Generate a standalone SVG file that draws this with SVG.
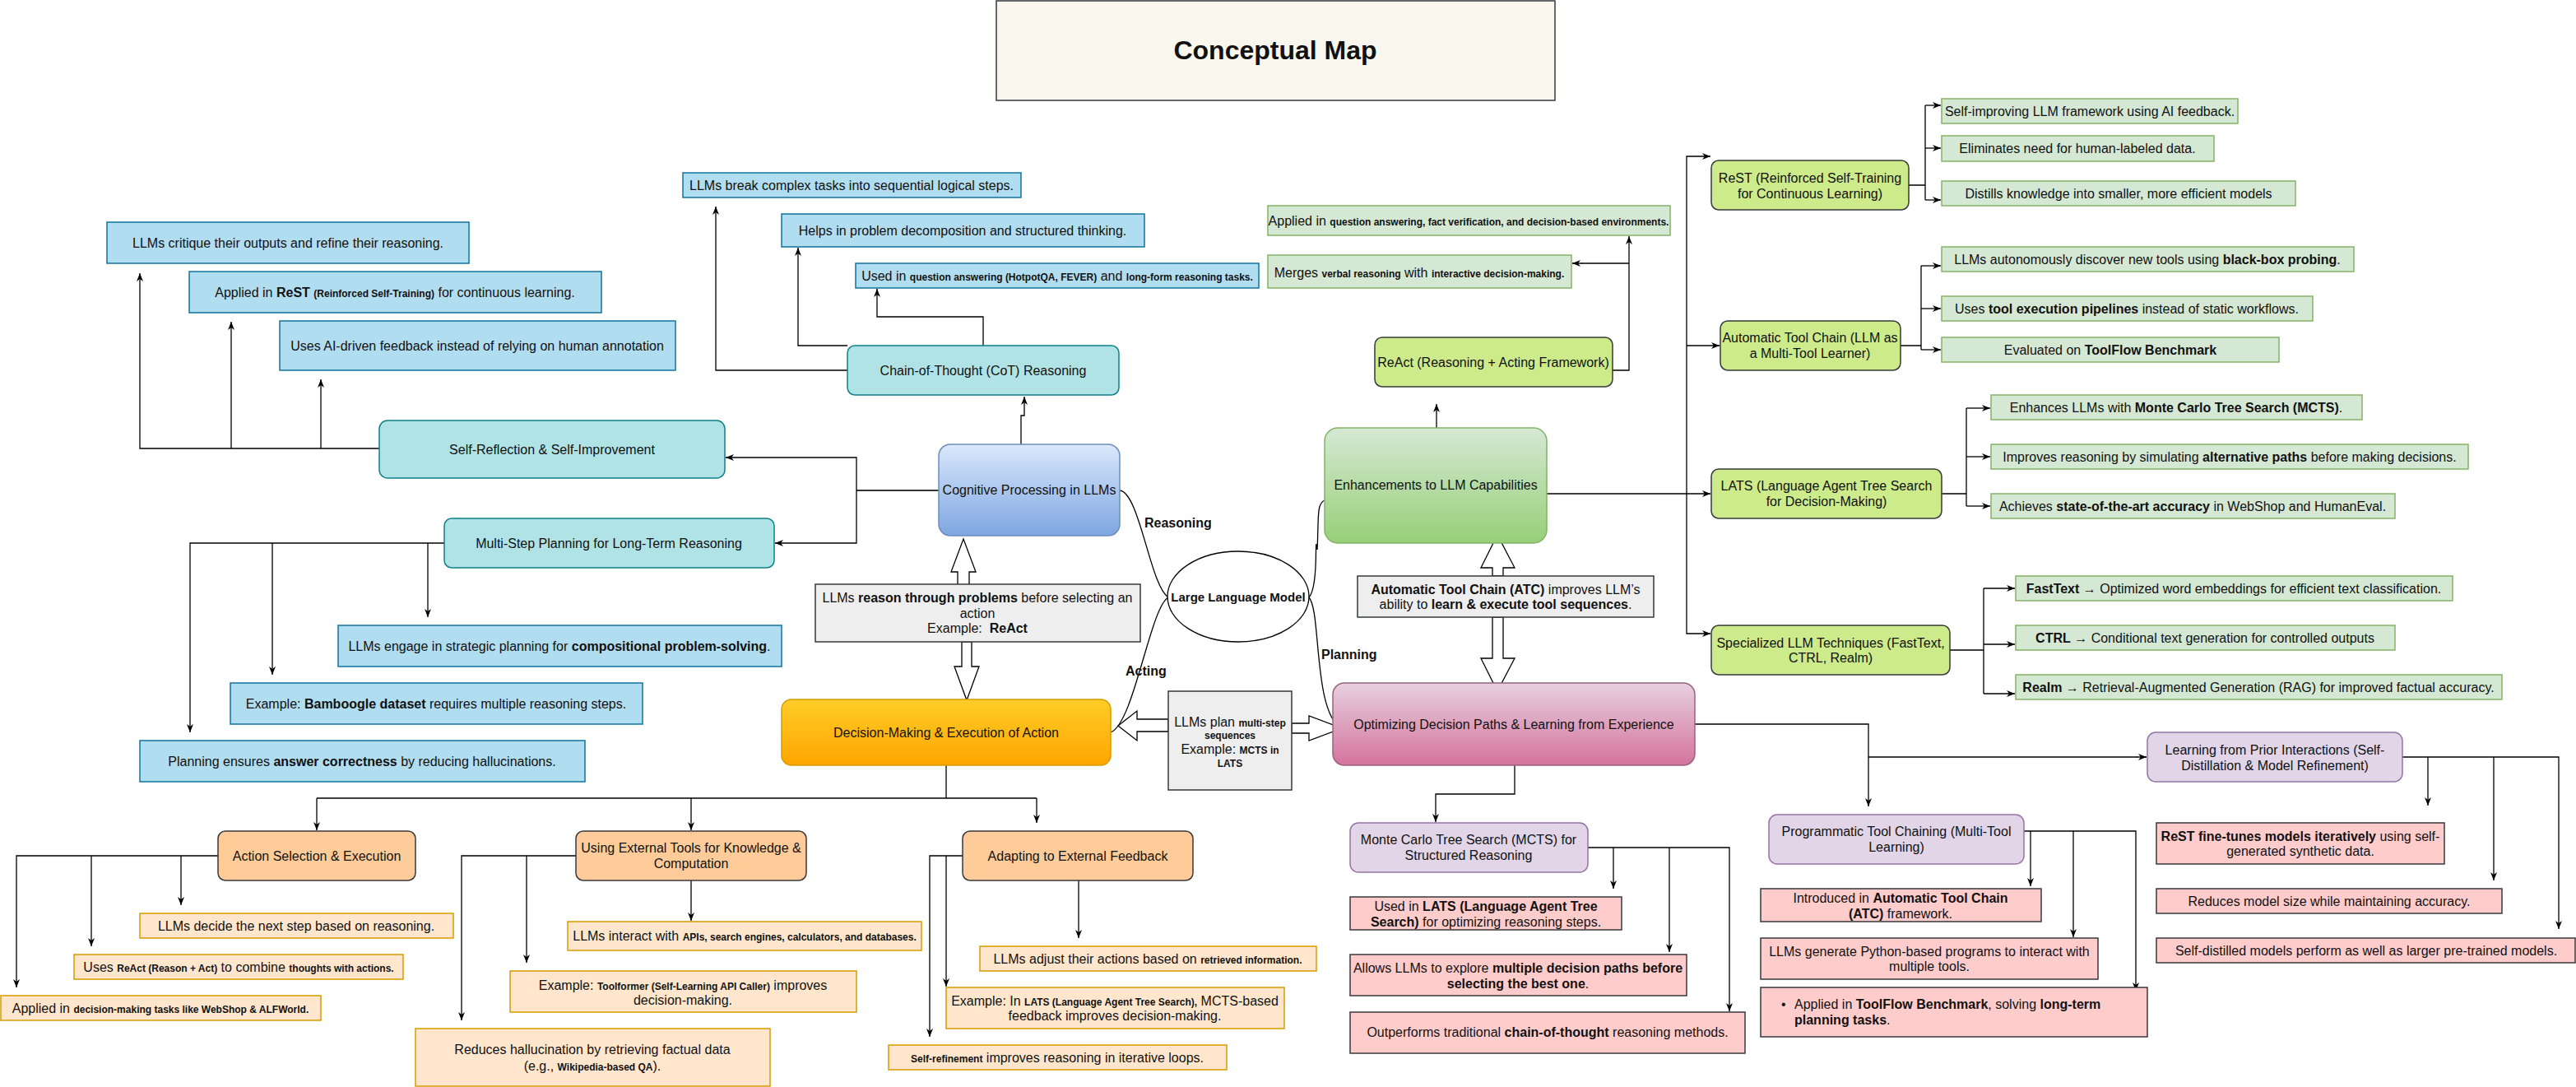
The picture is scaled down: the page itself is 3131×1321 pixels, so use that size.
<svg xmlns="http://www.w3.org/2000/svg" width="3131" height="1321" viewBox="0 0 3131 1321">
<style>
rect{stroke-width:1.5}
.blue{fill:#b1ddf0;stroke:#10739e}
.teal{fill:#b0e3e6;stroke:#0e8088}
.green{fill:#d5e8d4;stroke:#82b366}
.lime{fill:#cdeb8b;stroke:#36393d}
.orn{fill:#ffcc99;stroke:#36393d}
.ornl{fill:#ffe6cc;stroke:#d79b00}
.pur{fill:#e1d5e7;stroke:#9673a6}
.pink{fill:#ffcccc;stroke:#36393d}
.gray{fill:#eeeeee;stroke:#36393d}
.t{font-family:"Liberation Sans",Arial,Helvetica,sans-serif;font-size:16px;fill:#111;text-anchor:middle}
.l{text-anchor:start}
.b{font-weight:bold}
.s{font-size:12px;font-weight:bold}
.e path{fill:none;stroke:#000;stroke-width:1.3}
.e .a{marker-end:url(#ah)}
.e .thick{stroke:#333;stroke-width:2.2}
.blk{fill:#fff;stroke:#000;stroke-width:1.3}
</style>
<defs>
<marker id="ah" viewBox="0 0 10 8" refX="10" refY="4" markerWidth="10" markerHeight="8" markerUnits="userSpaceOnUse" orient="auto">
<path d="M0,0 L10,4 L0,8 L3,4 Z" fill="#000"/>
</marker>
<linearGradient id="gBlue" x1="0" y1="0" x2="0" y2="1"><stop offset="0" stop-color="#dae8fc"/><stop offset="1" stop-color="#7ea6e0"/></linearGradient>
<linearGradient id="gGreen" x1="0" y1="0" x2="0" y2="1"><stop offset="0" stop-color="#d5e8d4"/><stop offset="1" stop-color="#97d077"/></linearGradient>
<linearGradient id="gOrange" x1="0" y1="0" x2="0" y2="1"><stop offset="0" stop-color="#ffcd28"/><stop offset="1" stop-color="#ffa500"/></linearGradient>
<linearGradient id="gPink" x1="0" y1="0" x2="0" y2="1"><stop offset="0" stop-color="#e6d0de"/><stop offset="1" stop-color="#d5739d"/></linearGradient>
</defs>
<rect width="3131" height="1321" fill="#fff" stroke="none"/>

<g id="connectors" class="e">
<path class="a" d="M461,545 L170,545 L170,332"/>
<path class="a" d="M281,545 L281,391"/>
<path class="a" d="M390,545 L390,461"/>
<path class="a" d="M1030,450 L870,450 L870,251"/>
<path class="a" d="M1030,420 L970,420 L970,301"/>
<path class="a" d="M1195,420 L1195,385 L1066,385 L1066,351"/>
<path class="a" d="M1241,540 L1241,505 L1245,505 L1245,482"/>
<path class="thick" d="M1141,596 L1041,596"/>
<path class="a" d="M1041,596 L1041,556 L882,556"/>
<path class="a" d="M1041,596 L1041,660 L942,660"/>
<path class="a" d="M540,660 L231,660 L231,890"/>
<path class="a" d="M520,660 L520,750"/>
<path class="a" d="M331,660 L331,820"/>
<path class="a" d="M1746,520 L1746,491"/>
<path class="a" d="M1960,450 L1980,450 L1980,287"/>
<path class="a" d="M1980,320 L1911,320"/>
<path class="a" d="M1880,600 L2079,600"/>
<path class="a" d="M2050,600 L2050,190 L2079,190"/>
<path class="a" d="M2050,420 L2090,420"/>
<path class="a" d="M2050,600 L2050,770 L2079,770"/>
<path d="M2320,225 L2340,225 M2340,128 L2340,243"/>
<path class="a" d="M2340,128 L2359,128"/>
<path class="a" d="M2340,180 L2359,180"/>
<path class="a" d="M2340,243 L2359,243"/>
<path d="M2310,420 L2335,420 M2335,323 L2335,425"/>
<path class="a" d="M2335,323 L2359,323"/>
<path class="a" d="M2335,375 L2359,375"/>
<path class="a" d="M2335,425 L2359,425"/>
<path d="M2360,600 L2390,600 M2390,496 L2390,615"/>
<path class="a" d="M2390,496 L2419,496"/>
<path class="a" d="M2390,555 L2419,555"/>
<path class="a" d="M2390,615 L2419,615"/>
<path d="M2370,790 L2411,790 M2411,715 L2411,843"/>
<path class="a" d="M2411,715 L2449,715"/>
<path class="a" d="M2411,783 L2449,783"/>
<path class="a" d="M2411,843 L2449,843"/>
<path d="M1150,930 L1150,970 M385,970 L1260,970"/>
<path class="a" d="M385,970 L385,1009"/>
<path class="a" d="M840,970 L840,1009"/>
<path class="a" d="M1260,970 L1260,1000"/>
<path class="a" d="M265,1040 L20,1040 L20,1200"/>
<path class="a" d="M220,1040 L220,1100"/>
<path class="a" d="M111,1040 L111,1150"/>
<path class="a" d="M840,1070 L840,1119"/>
<path class="a" d="M700,1040 L561,1040 L561,1240"/>
<path class="a" d="M640,1040 L640,1170"/>
<path class="a" d="M1311,1070 L1311,1140"/>
<path class="a" d="M1170,1040 L1130,1040 L1130,1260"/>
<path class="a" d="M1150,1040 L1150,1199"/>
<path class="a" d="M1841,930 L1841,965 L1745,965 L1745,999"/>
<path class="a" d="M2060,880 L2271,880 L2271,980"/>
<path class="a" d="M2271,920 L2609,920"/>
<path class="a" d="M1930,1030 L2102,1030 L2102,1229"/>
<path class="a" d="M1961,1030 L1961,1080"/>
<path class="a" d="M2029,1030 L2029,1157"/>
<path class="a" d="M2460,1010 L2596,1010 L2596,1204"/>
<path class="a" d="M2468,1010 L2468,1077"/>
<path class="a" d="M2520,1010 L2520,1139"/>
<path class="a" d="M2920,920 L3110,920 L3110,1129"/>
<path class="a" d="M2951,920 L2951,979"/>
<path class="a" d="M3031,920 L3031,1070"/>
<path d="M1361,596 C1385,598 1398,712 1420,726"/>
<path d="M1420,726 C1398,738 1378,880 1350,890"/>
<path d="M1591,726 C1604,712 1597,640 1601,668 C1603,630 1600,612 1610,608"/>
<path d="M1591,726 C1606,742 1596,868 1631,885"/>
<polygon class="blk" points="1164,712 1164,695 1156,695 1171,655 1186,695 1178,695 1178,712"/>
<polygon class="blk" points="1169,780 1181,780 1181,810 1190,810 1175,851 1160,810 1169,810"/>
<polygon class="blk" points="1814,700 1814,690 1800,690 1820,650 1841,690 1827,690 1827,700"/>
<polygon class="blk" points="1814,750 1827,750 1827,800 1841,800 1820,840 1800,800 1814,800"/>
<polygon class="blk" points="1420,874 1382,874 1382,864 1359,882 1382,900 1382,889 1420,889"/>
<polygon class="blk" points="1570,879 1591,879 1591,870 1631,885 1591,900 1591,891 1570,891"/>
</g>

<g id="title"><rect x="1211" y="1" width="679" height="121" fill="#f9f7ed" stroke="#36393d"/><text class="t b" x="1550" y="72" style="font-size:32px">Conceptual Map</text></g>

<g id="sr1"><rect class="blue" x="130" y="270" width="440" height="50"/><text class="t" x="350" y="301">LLMs critique their outputs and refine their reasoning.</text></g>
<g id="sr2"><rect class="blue" x="230" y="330" width="501" height="50"/><text class="t" x="480" y="361">Applied in <tspan class="b">ReST</tspan> <tspan class="s">(Reinforced Self-Training)</tspan> for continuous learning.</text></g>
<g id="sr3"><rect class="blue" x="340" y="390" width="481" height="60"/><text class="t" x="580" y="426">Uses AI-driven feedback instead of relying on human annotation</text></g>
<g id="selfReflection"><rect class="teal" x="461" y="511" width="420" height="70" rx="10"/><text class="t" x="671" y="552">Self-Reflection &amp; Self-Improvement</text></g>

<g id="cot1"><rect class="blue" x="830" y="210" width="411" height="30"/><text class="t" x="1035" y="231">LLMs break complex tasks into sequential logical steps.</text></g>
<g id="cot2"><rect class="blue" x="950" y="260" width="441" height="40"/><text class="t" x="1170" y="286">Helps in problem decomposition and structured thinking.</text></g>
<g id="cot3"><rect class="blue" x="1040" y="320" width="490" height="30"/><text class="t" x="1285" y="341">Used in <tspan class="s">question answering (HotpotQA, FEVER)</tspan> and <tspan class="s">long-form reasoning tasks.</tspan></text></g>
<g id="cot"><rect class="teal" x="1030" y="420" width="330" height="60" rx="9"/><text class="t" x="1195" y="456">Chain-of-Thought (CoT) Reasoning</text></g>

<g id="cognitive"><rect x="1141" y="540" width="220" height="111" rx="14" fill="url(#gBlue)" stroke="#6c8ebf"/><text class="t" x="1251" y="601">Cognitive Processing in LLMs</text></g>

<g id="multiStep"><rect class="teal" x="540" y="630" width="401" height="60" rx="9"/><text class="t" x="740" y="666">Multi-Step Planning for Long-Term Reasoning</text></g>
<g id="ms1"><rect class="blue" x="411" y="760" width="539" height="50"/><text class="t" x="680" y="791">LLMs engage in strategic planning for <tspan class="b">compositional problem-solving</tspan>.</text></g>
<g id="ms2"><rect class="blue" x="280" y="830" width="501" height="50"/><text class="t" x="530" y="861">Example: <tspan class="b">Bamboogle dataset</tspan> requires multiple reasoning steps.</text></g>
<g id="ms3"><rect class="blue" x="170" y="900" width="541" height="50"/><text class="t" x="440" y="931">Planning ensures <tspan class="b">answer correctness</tspan> by reducing hallucinations.</text></g>

<g id="reasonBox"><rect class="gray" x="991" y="710" width="395" height="70"/><text class="t" x="1188" y="732">LLMs <tspan class="b">reason through problems</tspan> before selecting an</text><text class="t" x="1188" y="751">action</text><text class="t" x="1188" y="769">Example:&#160; <tspan class="b">ReAct</tspan></text></g>

<g id="llm"><ellipse cx="1505" cy="725" rx="86" ry="55" fill="#fff" stroke="#000" stroke-width="1.3"/><text class="t b" x="1505" y="731" style="font-size:15px">Large Language Model</text></g>
<g id="edgeLabels"><text class="t b l" x="1391" y="641">Reasoning</text><text class="t b l" x="1368" y="821">Acting</text><text class="t b l" x="1606" y="801">Planning</text></g>

<g id="enh"><rect x="1610" y="520" width="270" height="140" rx="16" fill="url(#gGreen)" stroke="#82b366"/><text class="t" x="1745" y="595">Enhancements to LLM Capabilities</text></g>
<g id="react"><rect class="lime" x="1671" y="410" width="289" height="60" rx="9"/><text class="t" x="1815" y="446">ReAct (Reasoning + Acting Framework)</text></g>
<g id="ra1"><rect class="green" x="1541" y="250" width="489" height="36"/><text class="t" x="1785" y="274">Applied in <tspan class="s">question answering, fact verification, and decision-based environments.</tspan></text></g>
<g id="ra2"><rect class="green" x="1541" y="310" width="369" height="40"/><text class="t" x="1725" y="337">Merges <tspan class="s">verbal reasoning</tspan> with <tspan class="s">interactive decision-making.</tspan></text></g>

<g id="rest"><rect class="lime" x="2080" y="195" width="240" height="60" rx="9"/><text class="t" x="2200" y="222">ReST (Reinforced Self-Training</text><text class="t" x="2200" y="241">for Continuous Learning)</text></g>
<g id="atc"><rect class="lime" x="2091" y="390" width="219" height="60" rx="9"/><text class="t" x="2200" y="416">Automatic Tool Chain (LLM as</text><text class="t" x="2200" y="435">a Multi-Tool Learner)</text></g>
<g id="lats"><rect class="lime" x="2080" y="570" width="280" height="60" rx="9"/><text class="t" x="2220" y="596">LATS (Language Agent Tree Search</text><text class="t" x="2220" y="615">for Decision-Making)</text></g>
<g id="spec"><rect class="lime" x="2080" y="760" width="290" height="60" rx="9"/><text class="t" x="2225" y="787">Specialized LLM Techniques (FastText,</text><text class="t" x="2225" y="805">CTRL, Realm)</text></g>

<g id="rest1"><rect class="green" x="2360" y="120" width="360" height="30"/><text class="t" x="2540" y="141">Self-improving LLM framework using AI feedback.</text></g>
<g id="rest2"><rect class="green" x="2360" y="165" width="331" height="31"/><text class="t" x="2525" y="186">Eliminates need for human-labeled data.</text></g>
<g id="rest3"><rect class="green" x="2360" y="220" width="430" height="30"/><text class="t" x="2575" y="241">Distills knowledge into smaller, more efficient models</text></g>
<g id="atc1"><rect class="green" x="2360" y="300" width="501" height="30"/><text class="t" x="2610" y="321">LLMs autonomously discover new tools using <tspan class="b">black-box probing</tspan>.</text></g>
<g id="atc2"><rect class="green" x="2360" y="360" width="451" height="30"/><text class="t" x="2585" y="381">Uses <tspan class="b">tool execution pipelines</tspan> instead of static workflows.</text></g>
<g id="atc3"><rect class="green" x="2360" y="410" width="410" height="30"/><text class="t" x="2565" y="431">Evaluated on <tspan class="b">ToolFlow Benchmark</tspan></text></g>
<g id="lats1"><rect class="green" x="2420" y="480" width="451" height="30"/><text class="t" x="2645" y="501">Enhances LLMs with <tspan class="b">Monte Carlo Tree Search (MCTS)</tspan>.</text></g>
<g id="lats2"><rect class="green" x="2420" y="540" width="580" height="30"/><text class="t" x="2710" y="561">Improves reasoning by simulating <tspan class="b">alternative paths</tspan> before making decisions.</text></g>
<g id="lats3"><rect class="green" x="2420" y="600" width="491" height="30"/><text class="t" x="2665" y="621">Achieves <tspan class="b">state-of-the-art accuracy</tspan> in WebShop and HumanEval.</text></g>
<g id="spec1"><rect class="green" x="2450" y="700" width="531" height="30"/><text class="t" x="2715" y="721"><tspan class="b">FastText</tspan> → Optimized word embeddings for efficient text classification.</text></g>
<g id="spec2"><rect class="green" x="2450" y="760" width="461" height="30"/><text class="t" x="2680" y="781"><tspan class="b">CTRL</tspan> → Conditional text generation for controlled outputs</text></g>
<g id="spec3"><rect class="green" x="2450" y="820" width="591" height="30"/><text class="t" x="2745" y="841"><tspan class="b">Realm</tspan> → Retrieval-Augmented Generation (RAG) for improved factual accuracy.</text></g>

<g id="atcBox"><rect class="gray" x="1650" y="700" width="360" height="50"/><text class="t" x="1830" y="722"><tspan class="b">Automatic Tool Chain (ATC)</tspan> improves LLM’s</text><text class="t" x="1830" y="740">ability to <tspan class="b">learn &amp; execute tool sequences</tspan>.</text></g>
<g id="planBox"><rect class="gray" x="1420" y="840" width="150" height="120"/><text class="t" x="1495" y="883">LLMs plan <tspan class="s">multi-step</tspan></text><text class="t s" x="1495" y="898">sequences</text><text class="t" x="1495" y="916">Example: <tspan class="s">MCTS in</tspan></text><text class="t s" x="1495" y="932">LATS</text></g>

<g id="decision"><rect x="950" y="850" width="400" height="80" rx="12" fill="url(#gOrange)" stroke="#d79b00"/><text class="t" x="1150" y="896">Decision-Making &amp; Execution of Action</text></g>
<g id="optimizing"><rect x="1620" y="830" width="440" height="100" rx="14" fill="url(#gPink)" stroke="#996185"/><text class="t" x="1840" y="886">Optimizing Decision Paths &amp; Learning from Experience</text></g>

<g id="action"><rect class="orn" x="265" y="1010" width="240" height="60" rx="9"/><text class="t" x="385" y="1046">Action Selection &amp; Execution</text></g>
<g id="using"><rect class="orn" x="700" y="1010" width="280" height="60" rx="9"/><text class="t" x="840" y="1036">Using External Tools for Knowledge &amp;</text><text class="t" x="840" y="1055">Computation</text></g>
<g id="adapting"><rect class="orn" x="1170" y="1010" width="280" height="60" rx="9"/><text class="t" x="1310" y="1046">Adapting to External Feedback</text></g>

<g id="act1"><rect class="ornl" x="170" y="1110" width="381" height="30"/><text class="t" x="360" y="1131">LLMs decide the next step based on reasoning.</text></g>
<g id="act2"><rect class="ornl" x="90" y="1160" width="400" height="30"/><text class="t" x="290" y="1181">Uses <tspan class="s">ReAct (Reason + Act)</tspan> to combine <tspan class="s">thoughts with actions.</tspan></text></g>
<g id="act3"><rect class="ornl" x="1" y="1210" width="389" height="30"/><text class="t" x="195" y="1231">Applied in <tspan class="s">decision-making tasks like WebShop &amp; ALFWorld.</tspan></text></g>
<g id="use1"><rect class="ornl" x="690" y="1120" width="430" height="35"/><text class="t" x="905" y="1143">LLMs interact with <tspan class="s">APIs, search engines, calculators, and databases.</tspan></text></g>
<g id="use2"><rect class="ornl" x="620" y="1180" width="421" height="50"/><text class="t" x="830" y="1203">Example: <tspan class="s">Toolformer (Self-Learning API Caller)</tspan> improves</text><text class="t" x="830" y="1221">decision-making.</text></g>
<g id="use3"><rect class="ornl" x="505" y="1250" width="431" height="70"/><text class="t" x="720" y="1281">Reduces hallucination by retrieving factual data</text><text class="t" x="720" y="1301">(e.g., <tspan class="s">Wikipedia-based QA</tspan>).</text></g>
<g id="ad1"><rect class="ornl" x="1191" y="1150" width="409" height="30"/><text class="t" x="1395" y="1171">LLMs adjust their actions based on <tspan class="s">retrieved information.</tspan></text></g>
<g id="ad2"><rect class="ornl" x="1150" y="1200" width="411" height="50"/><text class="t" x="1355" y="1222">Example: In <tspan class="s">LATS (Language Agent Tree Search),</tspan> MCTS-based</text><text class="t" x="1355" y="1240">feedback improves decision-making.</text></g>
<g id="ad3"><rect class="ornl" x="1080" y="1270" width="411" height="30"/><text class="t" x="1285" y="1291"><tspan class="s">Self-refinement</tspan> improves reasoning in iterative loops.</text></g>

<g id="mcts"><rect class="pur" x="1641" y="1000" width="289" height="60" rx="10"/><text class="t" x="1785" y="1026">Monte Carlo Tree Search (MCTS) for</text><text class="t" x="1785" y="1045">Structured Reasoning</text></g>
<g id="prog"><rect class="pur" x="2150" y="990" width="310" height="60" rx="10"/><text class="t" x="2305" y="1016">Programmatic Tool Chaining (Multi-Tool</text><text class="t" x="2305" y="1035">Learning)</text></g>
<g id="learning"><rect class="pur" x="2610" y="890" width="310" height="60" rx="10"/><text class="t" x="2765" y="917">Learning from Prior Interactions (Self-</text><text class="t" x="2765" y="936">Distillation &amp; Model Refinement)</text></g>

<g id="mc1"><rect class="pink" x="1641" y="1090" width="330" height="40"/><text class="t" x="1806" y="1107">Used in <tspan class="b">LATS (Language Agent Tree</tspan></text><text class="t" x="1806" y="1126"><tspan class="b">Search)</tspan> for optimizing reasoning steps.</text></g>
<g id="mc2"><rect class="pink" x="1641" y="1160" width="409" height="50"/><text class="t" x="1845" y="1182">Allows LLMs to explore <tspan class="b">multiple decision paths before</tspan></text><text class="t" x="1845" y="1201"><tspan class="b">selecting the best one</tspan>.</text></g>
<g id="mc3"><rect class="pink" x="1641" y="1230" width="480" height="50"/><text class="t" x="1881" y="1260">Outperforms traditional <tspan class="b">chain-of-thought</tspan> reasoning methods.</text></g>
<g id="pr1"><rect class="pink" x="2140" y="1080" width="341" height="40"/><text class="t" x="2310" y="1097">Introduced in <tspan class="b">Automatic Tool Chain</tspan></text><text class="t" x="2310" y="1116"><tspan class="b">(ATC)</tspan> framework.</text></g>
<g id="pr2"><rect class="pink" x="2140" y="1140" width="410" height="50"/><text class="t" x="2345" y="1162">LLMs generate Python-based programs to interact with</text><text class="t" x="2345" y="1180">multiple tools.</text></g>
<g id="pr3"><rect class="pink" x="2140" y="1200" width="470" height="60"/><text class="t l" x="2165" y="1226">•</text><text class="t l" x="2181" y="1226">Applied in <tspan class="b">ToolFlow Benchmark</tspan>, solving <tspan class="b">long-term</tspan></text><text class="t l" x="2181" y="1245"><tspan class="b">planning tasks</tspan>.</text></g>
<g id="lp1"><rect class="pink" x="2621" y="1000" width="350" height="50"/><text class="t" x="2796" y="1022"><tspan class="b">ReST fine-tunes models iteratively</tspan> using self-</text><text class="t" x="2796" y="1040">generated synthetic data.</text></g>
<g id="lp2"><rect class="pink" x="2621" y="1080" width="420" height="30"/><text class="t" x="2831" y="1101">Reduces model size while maintaining accuracy.</text></g>
<g id="lp3"><rect class="pink" x="2621" y="1140" width="509" height="30"/><text class="t" x="2876" y="1161">Self-distilled models perform as well as larger pre-trained models.</text></g>
</svg>
